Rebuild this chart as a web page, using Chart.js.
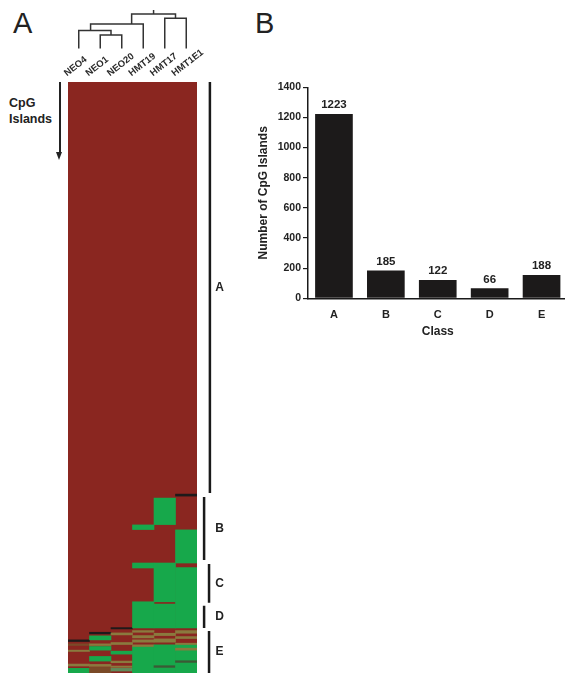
<!DOCTYPE html>
<html>
<head>
<meta charset="utf-8">
<script src="https://cdn.jsdelivr.net/npm/chart.js@4"></script>
<style>
  html, body { margin:0; padding:0; background:#fff; width:565px; height:675px; overflow:hidden; position:relative; }
  canvas { position:absolute; }
  .txt { position:absolute; font-family:'Liberation Sans', Arial, Helvetica, sans-serif; color:#222; white-space:nowrap; }
</style>
</head>
<body>
<div class="txt" style="left:13px; top:8.5px; font-size:29px; line-height:29px;">A</div>
<div class="txt" style="left:255px; top:8.5px; font-size:29px; line-height:29px;">B</div>
<div class="txt" style="left:9px; top:94.7px; font-size:12.5px; line-height:16px; font-weight:bold;">CpG<br>Islands</div>
<div style="position:absolute; left:58.5px; top:82px; width:2px; height:71px; background:#222;"></div>
<div style="position:absolute; left:56px; top:152px; width:0; height:0; border-left:3.5px solid transparent; border-right:3.5px solid transparent; border-top:8px solid #222;"></div>

<canvas id="heat" width="240" height="675" style="left:0; top:0;"></canvas>
<canvas id="bars" width="330" height="345" style="left:240px; top:0;"></canvas>

<script>
// ---------------- DATA ----------------
// Panel A: heatmap columns (samples)
const heatCols = ['NEO4', 'NEO1', 'NEO20', 'HMT19', 'HMT17', 'HMT1E1'];
const totalIslands = 1784;
// Segments per column over the red background: [startIsland, endIsland, colourKey]
const segNEO4   = [[1684,1689,'K'],[1696,1701,'N'],[1715,1719,'O'],[1757,1763,'O'],[1770,1784,'G']];
const segNEO1   = [[1661,1666,'K'],[1672,1684,'G'],[1696,1701,'O'],[1704,1715,'G'],[1734,1748,'G'],[1758,1764,'O'],[1767,1784,'N']];
const segNEO20  = [[1647,1651,'K'],[1663,1669,'O'],[1692,1698,'O'],[1718,1727,'G'],[1748,1753,'O'],[1763,1767,'O'],[1770,1778,'S']];
const segHMT19  = [[1337,1351,'G'],[1452,1467,'G'],[1569,1648,'G'],[1656,1661,'O'],[1671,1678,'O'],[1684,1691,'O'],[1699,1706,'O'],[1706,1784,'G']];
const segHMT17  = [[1256,1336,'G'],[1452,1569,'G'],[1576,1648,'G'],[1664,1671,'O'],[1681,1691,'O'],[1699,1784,'G'],[1762,1767,'D']];
const segHMT1E1 = [[1244,1250,'K'],[1352,1452,'G'],[1466,1648,'G'],[1656,1664,'O'],[1674,1680,'O'],[1694,1700,'O'],[1700,1709,'G'],[1709,1717,'O'],[1717,1784,'G'],[1747,1752,'D']];
const heatSegments = [segNEO4, segNEO1, segNEO20, segHMT19, segHMT17, segHMT1E1];

// Dendrogram merges: [leftX, leftHeight, rightX, rightHeight, mergeHeight] (x = column index)
const dendroMerges = [
  [1, 0, 2, 0, 0.351],
  [0, 0, 1.5, 0.351, 0.468],
  [0.55, 0.468, 3, 0, 0.636],
  [4, 0, 5, 0, 0.784],
  [2.46, 0.636, 4.5, 0.784, 0.896]
];
const dendroRoot = [3.48, 0.896, 1.0];

// Classes: island ranges in heatmap order
const classNames = ['A', 'B', 'C', 'D', 'E'];
const classStart = [0, 1253, 1455, 1581, 1657];
const classEnd   = [1241, 1443, 1572, 1648, 1784];

// Panel B
const barCategories = ['A', 'B', 'C', 'D', 'E'];
const barHeights = [1223, 185, 122, 66, 155];
const barLabels = ['1223', '185', '122', '66', '188'];
const yTickValues = [0, 200, 400, 600, 800, 1000, 1200, 1400];

// ---------------- STYLE ----------------
const FONT = "'Liberation Sans', Arial, Helvetica, sans-serif";
Chart.defaults.font.family = FONT;
const colourMap = { R:'#8a2620', G:'#17a84b', O:'#8a7a3e', K:'#1e1a1a', N:'#7a4a28', S:'#5f8a5a', D:'#3b5a35' };
const bracketX = [6.1, 5.83, 6.06, 5.83, 6.06];
const bracketLabelX = 6.55;

// ---------------- PANEL A ----------------
const overlayData = [];
const overlayColours = [];
heatSegments.forEach((segs, ci) => {
  segs.forEach(s => {
    overlayData.push({ x: heatCols[ci], y: [s[0], s[1]] });
    overlayColours.push(colourMap[s[2]]);
  });
});

const heatDatasets = [
  { type:'bar', data: heatCols.map(c => ({ x: c, y: [0, totalIslands] })), backgroundColor: colourMap.R,
    grouped:false, barPercentage:1, categoryPercentage:1, inflateAmount:1, xAxisID:'x', yAxisID:'y', order: 3 },
  { type:'bar', data: overlayData, backgroundColor: overlayColours,
    grouped:false, barPercentage:1, categoryPercentage:1, xAxisID:'x', yAxisID:'y', order: 2 }
];
dendroMerges.forEach(m => {
  heatDatasets.push({ type:'line', xAxisID:'xl', yAxisID:'yd', clip:false, order:1,
    data:[{x:m[0], y:m[1]}, {x:m[0], y:m[4]}, {x:m[2], y:m[4]}, {x:m[2], y:m[3]}],
    borderColor:'#333', borderWidth:1.5, pointRadius:0, fill:false, tension:0 });
});
heatDatasets.push({ type:'line', xAxisID:'xl', yAxisID:'yd', clip:false, order:1,
  data:[{x:dendroRoot[0], y:dendroRoot[1]}, {x:dendroRoot[0], y:dendroRoot[2]}],
  borderColor:'#333', borderWidth:1.5, pointRadius:0, fill:false });
classNames.forEach((c, i) => {
  heatDatasets.push({ type:'line', xAxisID:'xl', yAxisID:'y', clip:false, order:1,
    data:[{x:bracketX[i], y:classStart[i]}, {x:bracketX[i], y:classEnd[i]}],
    borderColor:'#1a1a1a', borderWidth:2.5, pointRadius:0, fill:false });
});

const heatLabelPlugin = {
  id:'heatLabels',
  afterDraw(chart) {
    const ctx = chart.ctx, xl = chart.scales.xl, y = chart.scales.y;
    ctx.save();
    ctx.fillStyle = '#2a2a2a';
    ctx.font = 'bold 9.5px ' + FONT;
    ctx.textAlign = 'left';
    ctx.textBaseline = 'alphabetic';
    heatCols.forEach((name, i) => {
      const px = xl.getPixelForValue(i - 0.5);
      ctx.save();
      ctx.translate(px - 1, chart.chartArea.top - 5.5);
      ctx.rotate(-38 * Math.PI / 180);
      ctx.fillText(name, 0, 0);
      ctx.restore();
    });
    ctx.font = 'bold 12px ' + FONT;
    ctx.textAlign = 'center';
    ctx.textBaseline = 'middle';
    ctx.fillStyle = '#222';
    classNames.forEach((c, i) => {
      ctx.fillText(c, xl.getPixelForValue(bracketLabelX), y.getPixelForValue((classStart[i] + classEnd[i]) / 2));
    });
    ctx.restore();
  }
};

new Chart(document.getElementById('heat'), {
  type:'bar',
  data:{ labels: heatCols, datasets: heatDatasets },
  options:{
    responsive:false, animation:false, events:[],
    layout:{ padding:{ left:68, right:43, top:82, bottom:2 } },
    plugins:{ legend:{display:false}, tooltip:{enabled:false} },
    scales:{
      x:{ type:'category', display:false, offset:true },
      y:{ type:'linear', display:false, min:0, max:totalIslands, reverse:true, beginAtZero:false },
      xl:{ type:'linear', axis:'x', display:false, min:-0.5, max:5.5, offset:false, grid:{offset:false} },
      yd:{ type:'linear', axis:'y', display:false, min:-16.22, max:-0.870, beginAtZero:false, offset:false }
    }
  },
  plugins:[heatLabelPlugin]
});

// ---------------- PANEL B ----------------
const barValuePlugin = {
  id:'barValues',
  afterDatasetsDraw(chart) {
    const ctx = chart.ctx;
    const meta = chart.getDatasetMeta(0);
    ctx.save();
    ctx.fillStyle = '#222';
    ctx.font = 'bold 11.5px ' + FONT;
    ctx.textAlign = 'center';
    ctx.textBaseline = 'alphabetic';
    meta.data.forEach((bar, i) => ctx.fillText(barLabels[i], bar.x, bar.y - 5.5));
    ctx.restore();
  }
};

new Chart(document.getElementById('bars'), {
  type:'bar',
  data:{ labels: barCategories, datasets:[{ data: barHeights, backgroundColor:'#1c1a1a', categoryPercentage:1, barPercentage:0.726 }] },
  options:{
    responsive:false, animation:false, events:[],
    layout:{ padding:{ left:12, right:2.5, top:87.3, bottom:3.8 } },
    plugins:{ legend:{display:false}, tooltip:{enabled:false} },
    scales:{
      x:{
        grid:{ display:false, drawTicks:false },
        border:{ display:true, color:'#1a1a1a', width:1.5 },
        ticks:{ padding:10.5, color:'#222', font:{ size:11, weight:'bold' } },
        title:{ display:true, text:'Class', color:'#222', font:{ size:12, weight:'bold' }, padding:{ top:4, bottom:2 } },
        afterFit(a) { a.height = 42.9; }
      },
      y:{
        min:0, max:1400,
        afterBuildTicks(a) { a.ticks = yTickValues.map(v => ({ value:v })); },
        ticks:{ padding:2, color:'#222', font:{ size:10.5, weight:'bold' }, callback:(v) => String(v) },
        grid:{ drawOnChartArea:false, drawTicks:true, tickLength:5, color:'#1a1a1a', lineWidth:1.2 },
        border:{ display:true, color:'#1a1a1a', width:1.5 },
        title:{ display:true, text:'Number of CpG Islands', color:'#222', font:{ size:12, weight:'bold' }, padding:{ top:4, bottom:0 } },
        afterFit(a) { a.width = 56; }
      }
    }
  },
  plugins:[barValuePlugin]
});
</script>
</body>
</html>
